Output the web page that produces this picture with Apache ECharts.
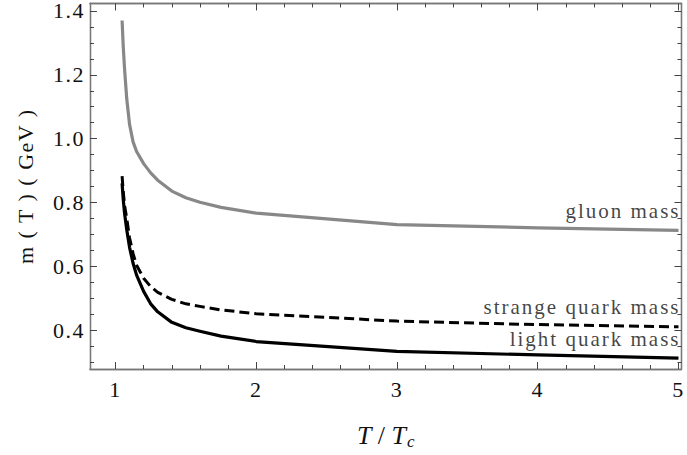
<!DOCTYPE html>
<html>
<head>
<meta charset="utf-8">
<script src="https://cdn.jsdelivr.net/npm/echarts@6/dist/echarts.min.js"></script>
<style>
html,body{margin:0;padding:0;background:#fff;}
#chart{width:687px;height:455px;}
</style>
</head>
<body>
<div id="chart"></div>
<script>
// ---- data ----
var tValues     = [1.047, 1.055, 1.065, 1.08, 1.1, 1.125, 1.15, 1.2, 1.25, 1.3, 1.4, 1.5, 1.6, 1.75, 2, 3, 4, 5];
var gluonMass   = [1.37, 1.29, 1.215, 1.125, 1.045, 0.99, 0.96, 0.922, 0.893, 0.870, 0.836, 0.815, 0.801, 0.785, 0.767, 0.731, 0.721, 0.713];
var strangeMass = [0.883, 0.835, 0.79, 0.75, 0.69, 0.64, 0.604, 0.563, 0.537, 0.519, 0.497, 0.483, 0.475, 0.464, 0.452, 0.429, 0.418, 0.411];
var lightMass   = [0.86, 0.81, 0.765, 0.715, 0.66, 0.61, 0.573, 0.522, 0.483, 0.458, 0.425, 0.408, 0.397, 0.382, 0.365, 0.334, 0.323, 0.313];

var xMajorTicks = [1, 2, 3, 4, 5];
var xMinorTicks = [1.2,1.4,1.6,1.8,2.2,2.4,2.6,2.8,3.2,3.4,3.6,3.8,4.2,4.4,4.6,4.8];
var yMajorTicks = [0.4, 0.6, 0.8, 1.0, 1.2, 1.4];
var yMinorTicks = [0.3,0.35,0.45,0.5,0.55,0.65,0.7,0.75,0.85,0.9,0.95,1.05,1.1,1.15,1.25,1.3,1.35];
var yTickLabels = ['0.4','0.6','0.8','1.0','1.2','1.4'];

var curveLabels = ['gluon mass', 'strange quark mass', 'light quark mass'];
var curveLabelT = [5.0, 5.0, 5.0];
var curveLabelM = [0.773, 0.474, 0.373];

var X_MIN = 0.819, X_MAX = 5.021, Y_MIN = 0.279, Y_MAX = 1.4234;
var FONT = 'Liberation Serif, Times New Roman, serif';
var AXIS_COLOR = '#777';
var TICK_COLOR = '#444';

function pairs(xs, ys){ return xs.map(function(x,i){ return [x, ys[i]]; }); }

function mkX(pos, ticks, len, labels){
  return {
    type:'value', position:pos, min:X_MIN, max:X_MAX,
    axisLine:{show:true, lineStyle:{color:AXIS_COLOR, width:1.3}},
    axisTick:{show:true, inside:true, length:len, customValues:ticks, lineStyle:{color:TICK_COLOR, width:1}},
    axisLabel: labels ? {show:true, customValues:ticks, margin:10, fontFamily:FONT, fontSize:22, lineHeight:20, color:'#111'} : {show:false},
    splitLine:{show:false}
  };
}
function mkY(pos, ticks, len, labels){
  return {
    type:'value', position:pos, min:Y_MIN, max:Y_MAX,
    axisLine:{show:true, lineStyle:{color:AXIS_COLOR, width:1.3}},
    axisTick:{show:true, inside:true, length:len, customValues:ticks, lineStyle:{color:TICK_COLOR, width:1}},
    axisLabel: labels ? {show:true, customValues:ticks, margin:5, fontFamily:FONT, fontSize:22, lineHeight:14, padding:[3,0,0,0], color:'#111',
      formatter:function(v){ var i = yMajorTicks.findIndex(function(t){return Math.abs(t-v)<1e-6;}); return i>=0 ? yTickLabels[i] : v.toFixed(1); }} : {show:false},
    splitLine:{show:false}
  };
}

var xAxes = [mkX('bottom', xMajorTicks, 7, true), mkX('bottom', xMinorTicks, 4, false), mkX('top', xMajorTicks, 7, false), mkX('top', xMinorTicks, 4, false)];
xAxes[0].name = '{i|T} / {i|T}{s|c}';
xAxes[0].nameLocation = 'middle';
xAxes[0].nameGap = 51;
xAxes[0].nameTextStyle = {fontFamily:FONT, fontSize:26, color:'#111',
  rich:{i:{fontFamily:FONT, fontStyle:'italic', fontSize:26, color:'#111'}, s:{fontFamily:FONT, fontStyle:'italic', fontSize:17, color:'#111', verticalAlign:'bottom', padding:[13,0,0,1]}}};
var yAxes = [mkY('left', yMajorTicks, 7, true), mkY('left', yMinorTicks, 4, false), mkY('right', yMajorTicks, 7, false), mkY('right', yMinorTicks, 4, false)];
yAxes[0].name = 'm ( T ) ( GeV )';
yAxes[0].nameLocation = 'middle';
yAxes[0].nameGap = 54;
yAxes[0].nameTextStyle = {fontFamily:FONT, fontSize:22, color:'#111'};

var labelData = curveLabels.map(function(n,i){ return {name:n, value:[curveLabelT[i], curveLabelM[i]]}; });

var chart = echarts.init(document.getElementById('chart'), null, {renderer:'svg'});
chart.setOption({
  animation:false,
  backgroundColor:'#fff',
  grid:{left:90, right:4, top:2, bottom:82, containLabel:false},
  xAxis:xAxes,
  yAxis:yAxes,
  series:[
    {type:'line', name:'gluon', data:pairs(tValues, gluonMass), showSymbol:false, smooth:false,
     lineStyle:{color:'#888888', width:3.2, join:'round', cap:'butt'}, itemStyle:{color:'#888888'}},
    {type:'line', name:'strange', data:pairs(tValues, strangeMass), showSymbol:false, smooth:false,
     lineStyle:{color:'#000', width:3, type:[10,5], join:'round'}, itemStyle:{color:'#000'}},
    {type:'line', name:'light', data:pairs(tValues, lightMass), showSymbol:false, smooth:false,
     lineStyle:{color:'#000', width:3.2, join:'round'}, itemStyle:{color:'#000'}},
    {type:'scatter', data:labelData, symbolSize:0, silent:true,
     label:{show:true, position:'left', distance:-2, formatter:'{b}', fontFamily:FONT, fontSize:21, color:'#111', verticalAlign:'middle'}}
  ]
});

function spaceText(){
  var texts = document.querySelectorAll('#chart svg text');
  texts.forEach(function(t){
    var s = t.textContent;
    if (curveLabels.indexOf(s) >= 0) t.style.letterSpacing = '2px';
    else if (s.indexOf('GeV') >= 0) t.style.letterSpacing = '1.5px';
    else if (/^[0-9.]+$/.test(s)) t.style.letterSpacing = '1.5px';
  });
}
chart.on('finished', spaceText);
setTimeout(spaceText, 50);
setTimeout(spaceText, 300);
</script>
</body>
</html>
